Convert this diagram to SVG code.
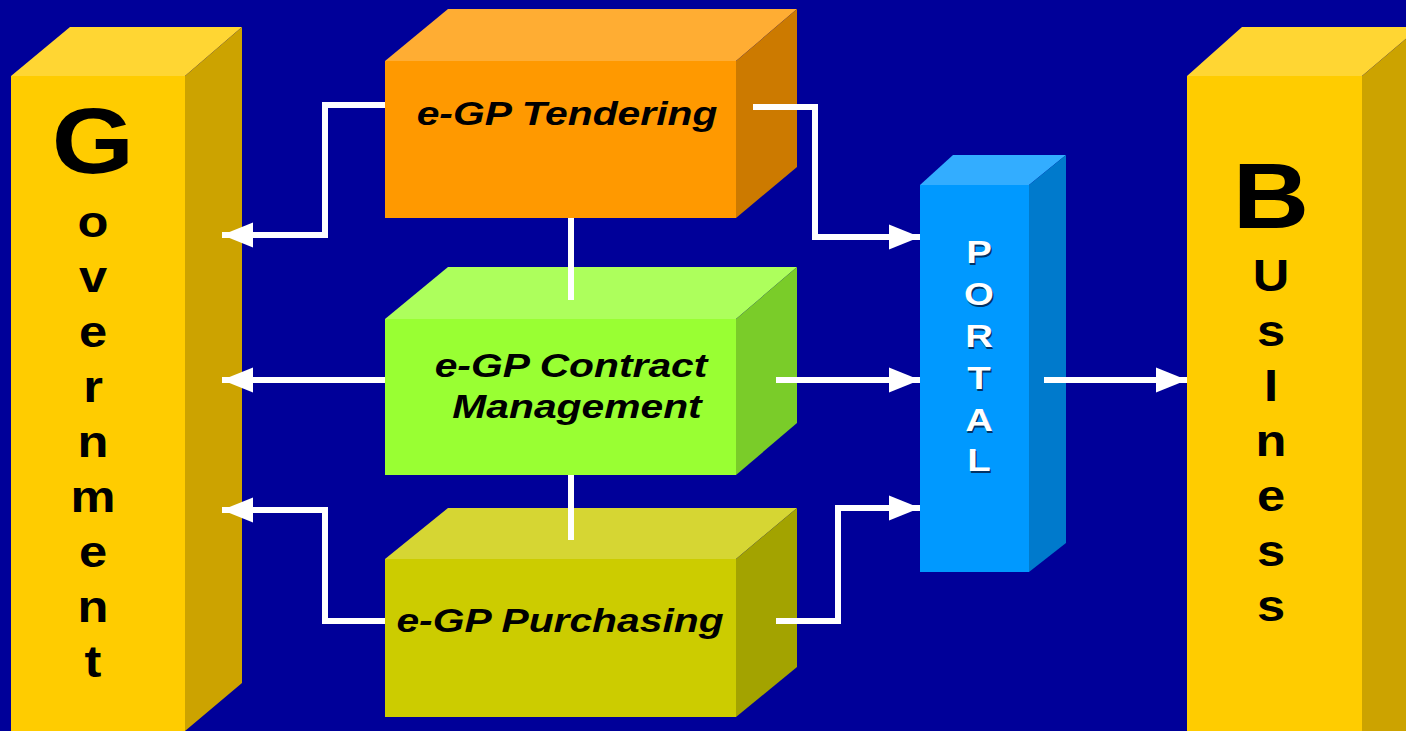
<svg xmlns="http://www.w3.org/2000/svg" width="1406" height="731" viewBox="0 0 1406 731">
  <defs>
    <marker id="arrow" markerUnits="userSpaceOnUse" markerWidth="32" markerHeight="28" refX="31" refY="14" orient="auto">
      <path d="M0,1.5 L31,14 L0,26.5 Z" fill="#ffffff"/>
    </marker>
    <style>
      .lbl { font-family: "Liberation Sans", Arial, sans-serif; font-weight: bold; font-style: italic; font-size: 34px; fill: #000000; text-anchor: middle; }
      .big { font-family: "Liberation Sans", Arial, sans-serif; font-weight: bold; font-size: 92px; fill: #000000; text-anchor: middle; }
      .sm { font-family: "Liberation Sans", Arial, sans-serif; font-weight: bold; font-size: 44px; fill: #000000; text-anchor: middle; }
      .portal { font-family: "Liberation Sans", Arial, sans-serif; font-weight: bold; font-size: 32px; fill: #ffffff; text-anchor: middle; }
      .pshadow { font-family: "Liberation Sans", Arial, sans-serif; font-weight: bold; font-size: 32px; fill: #003366; text-anchor: middle; }
      .link { fill: none; stroke: #ffffff; stroke-width: 6; stroke-linejoin: miter; }
    </style>
  </defs>

  <!-- background -->
  <rect x="0" y="0" width="1406" height="731" fill="#000099"/>

  <!-- Government pillar -->
  <g id="government">
    <polygon points="11,76 70,27 242,27 185,76" fill="#FFD633"/>
    <polygon points="185,76 242,27 242,683 185,731" fill="#CCA300"/>
    <rect x="11" y="76" width="174" height="660" fill="#FFCC00"/>
    <g transform="translate(93,0) scale(1.15,1)">
      <text class="big" x="0" y="173">G</text>
      <text class="sm" x="0" y="237">o</text>
      <text class="sm" x="0" y="292">v</text>
      <text class="sm" x="0" y="347">e</text>
      <text class="sm" x="0" y="402">r</text>
      <text class="sm" x="0" y="457">n</text>
      <text class="sm" x="0" y="512">m</text>
      <text class="sm" x="0" y="567">e</text>
      <text class="sm" x="0" y="622">n</text>
      <text class="sm" x="0" y="677">t</text>
    </g>
  </g>

  <!-- Business pillar -->
  <g id="business">
    <polygon points="1187,76 1242,27 1420,27 1362,76" fill="#FFD633"/>
    <polygon points="1362,76 1420,27 1420,731 1362,731" fill="#CCA300"/>
    <rect x="1187" y="76" width="175" height="660" fill="#FFCC00"/>
    <g transform="translate(1271,0) scale(1.15,1)">
      <text class="big" x="0" y="228">B</text>
      <text class="sm" x="0" y="291">U</text>
      <text class="sm" x="0" y="346">s</text>
      <text class="sm" x="0" y="401">I</text>
      <text class="sm" x="0" y="456">n</text>
      <text class="sm" x="0" y="511">e</text>
      <text class="sm" x="0" y="566">s</text>
      <text class="sm" x="0" y="621">s</text>
    </g>
  </g>

  <!-- e-GP Tendering -->
  <g id="tendering">
    <polygon points="385,61 448,9 797,9 736,61" fill="#FFAD33"/>
    <polygon points="736,61 797,9 797,167 736,218" fill="#CC7A00"/>
    <rect x="385" y="61" width="351" height="157" fill="#FF9900"/>
    <text class="lbl" transform="translate(567,125) scale(1.2,1)">e-GP Tendering</text>
  </g>

  <!-- e-GP Contract Management -->
  <g id="contract">
    <polygon points="385,319 448,267 797,267 736,319" fill="#ADFF5C"/>
    <polygon points="736,319 797,267 797,423 736,475" fill="#7ACC29"/>
    <rect x="385" y="319" width="351" height="156" fill="#99FF33"/>
    <text class="lbl" transform="translate(571,377) scale(1.2,1)">e-GP Contract</text>
    <text class="lbl" transform="translate(577,418) scale(1.2,1)">Management</text>
  </g>

  <!-- e-GP Purchasing -->
  <g id="purchasing">
    <polygon points="385,559 448,508 797,508 736,559" fill="#D6D633"/>
    <polygon points="736,559 797,508 797,667 736,717" fill="#A3A300"/>
    <rect x="385" y="559" width="351" height="158" fill="#CCCC00"/>
    <text class="lbl" transform="translate(560,632) scale(1.2,1)">e-GP Purchasing</text>
  </g>

  <!-- Portal -->
  <g id="portal">
    <polygon points="920,185 953,155 1066,155 1029,185" fill="#33ADFF"/>
    <polygon points="1029,185 1066,155 1066,543 1029,572" fill="#007ACC"/>
    <rect x="920" y="185" width="109" height="387" fill="#0099FF"/>
    <g transform="translate(979,0) scale(1.2,1)">
      <text class="pshadow" x="1" y="265">P</text>
      <text class="pshadow" x="1" y="307">O</text>
      <text class="pshadow" x="1" y="349">R</text>
      <text class="pshadow" x="1" y="391">T</text>
      <text class="pshadow" x="1" y="433">A</text>
      <text class="pshadow" x="1" y="473">L</text>
      <text class="portal" x="0" y="263">P</text>
      <text class="portal" x="0" y="305">O</text>
      <text class="portal" x="0" y="347">R</text>
      <text class="portal" x="0" y="389">T</text>
      <text class="portal" x="0" y="431">A</text>
      <text class="portal" x="0" y="471">L</text>
    </g>
  </g>

  <!-- connectors -->
  <g id="connectors">
    <path class="link" d="M385,105 H325 V235 H222" marker-end="url(#arrow)"/>
    <path class="link" d="M753,107 H815 V237 H920" marker-end="url(#arrow)"/>
    <path class="link" d="M571,218 V300"/>
    <path class="link" d="M571,475 V540"/>
    <path class="link" d="M385,380 H222" marker-end="url(#arrow)"/>
    <path class="link" d="M776,380 H920" marker-end="url(#arrow)"/>
    <path class="link" d="M385,621 H325 V510 H222" marker-end="url(#arrow)"/>
    <path class="link" d="M776,621 H838 V508 H920" marker-end="url(#arrow)"/>
    <path class="link" d="M1044,380 H1187" marker-end="url(#arrow)"/>
  </g>
</svg>
